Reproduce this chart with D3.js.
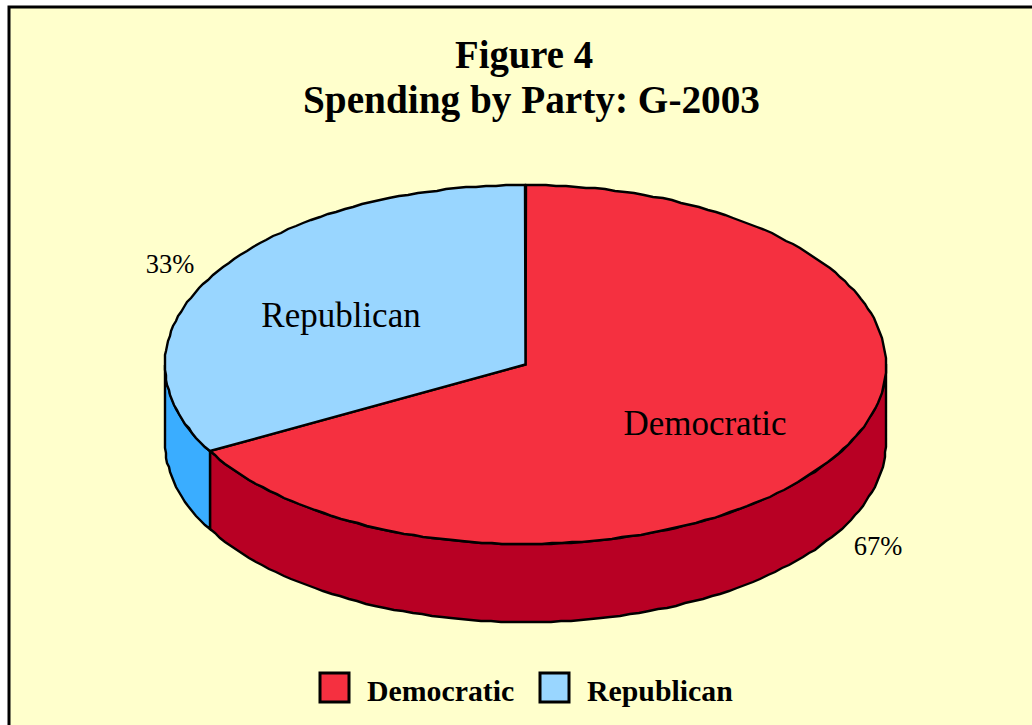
<!DOCTYPE html>
<html><head><meta charset="utf-8">
<script src="https://cdn.jsdelivr.net/npm/d3@7"></script>
<style>html,body{margin:0;padding:0;background:#fff;overflow:hidden}svg{display:block}text{font-family:"Liberation Serif","Times New Roman",serif;fill:#000}</style>
</head><body><svg id="c" width="1032" height="725"></svg>
<script>
const categories = ["Democratic", "Republican"];
const values = [67, 33];
const percentLabels = ["67%", "33%"];
const titleLines = ["Figure 4", "Spending by Party: G-2003"];
const topColors = ["#F53040", "#99D6FF"];
const sideColors = ["#B80024", "#3AADFF"];

const svg = d3.select("#c");
svg.append("rect").attr("x",9).attr("y",7).attr("width",1060).attr("height",760)
  .attr("fill","#FFFFCC").attr("stroke","#000").attr("stroke-width",3);

const titleX=[524,531.5], titleY=[67.5,113], titleW=[138,457];
svg.selectAll(".t").data(titleLines).join("text").attr("class","t")
  .attr("x",(d,i)=>titleX[i]).attr("y",(d,i)=>titleY[i]).attr("text-anchor","middle")
  .attr("font-size",39).attr("font-weight","bold")
  .attr("textLength",(d,i)=>titleW[i]).attr("lengthAdjust","spacingAndGlyphs").text(d=>d);

const x = d3.scaleLinear().domain([-1,1]).range([165,886]);
const y = d3.scaleLinear().domain([-1,1]).range([185,544]);
const depth = 78;
const arcs = d3.pie().sort(null).value(d=>d)(values);

function rim(a0,a1){
  const n = Math.max(2,Math.ceil(Math.abs(a1-a0)/(1.6*Math.PI/180)));
  return d3.range(n+1).map(i=>{
    const a=a0+(a1-a0)*i/n;
    return [Math.round(x(Math.sin(a))),Math.round(y(-Math.cos(a)))];
  });
}
const line = d3.line();
function draw(pts,fill){
  svg.append("path").attr("d",line(pts)+"Z").attr("fill",fill)
    .attr("stroke","#000").attr("stroke-width",2.4).attr("stroke-linejoin","miter");
}
arcs.forEach((s,i)=>{
  const a0=Math.max(s.startAngle,Math.PI/2), a1=Math.min(s.endAngle,3*Math.PI/2);
  if(a1<=a0) return;
  const top=rim(a0,a1), bot=top.map(([u,v])=>[u,v+depth]).reverse();
  draw(top.concat(bot),sideColors[i]);
});
arcs.forEach((s,i)=>{
  draw([[x(0),y(0)],...rim(s.startAngle,s.endAngle)],topColors[i]);
});

const labelPos = [[705,435],[341,327]];
svg.selectAll(".cat").data(categories).join("text").attr("class","cat")
  .attr("x",(d,i)=>labelPos[i][0]).attr("y",(d,i)=>labelPos[i][1])
  .attr("text-anchor","middle").attr("font-size",35).text(d=>d);
const pctPos = [[878,555],[170,273]];
svg.selectAll(".pct").data(percentLabels).join("text").attr("class","pct")
  .attr("x",(d,i)=>pctPos[i][0]).attr("y",(d,i)=>pctPos[i][1])
  .attr("text-anchor","middle").attr("font-size",26.5).text(d=>d);

const legendX = [320,540];
categories.forEach((c,i)=>{
  svg.append("rect").attr("x",legendX[i]).attr("y",673).attr("width",29).attr("height",29)
    .attr("fill",topColors[i]).attr("stroke","#000").attr("stroke-width",3);
  svg.append("text").attr("x",legendX[i]+47).attr("y",701)
    .attr("font-size",29.8).attr("font-weight","bold").text(c);
});
</script></body></html>
